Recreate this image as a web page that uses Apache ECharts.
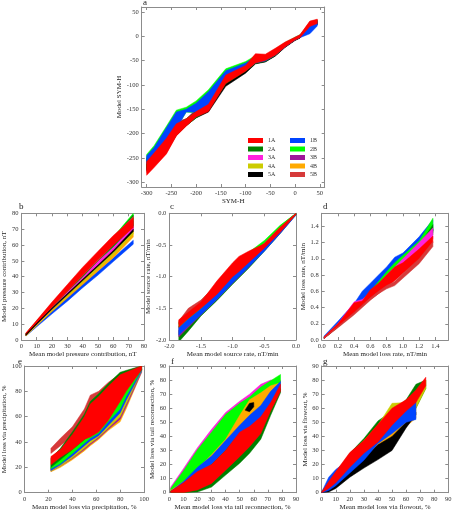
<!DOCTYPE html>
<html>
<head>
<meta charset="utf-8">
<script src="https://cdn.jsdelivr.net/npm/echarts@6/dist/echarts.min.js"></script>
<style>
  html, body { margin: 0; padding: 0; background: #fff; }
  #chart { width: 456px; height: 512px; }
</style>
</head>
<body>
<div id="chart"></div>
<script>
// ---- panel a : SYM-H ----
const aTicks = [-300, -250, -200, -150, -100, -50, 0, 50];
const aX = [-300, -285, -260, -240, -220, -200, -175, -140, -100, -80, -60, -40, -20, 0, 10, 30, 45];
const a2B_hi = [-243, -225, -185, -152, -146, -133, -110, -67, -52, -40, -40, -27, -13, -2, 3, 26, 33];
const a2B_lo = [-262, -250, -225, -190, -156, -158, -140, -92, -70, -54, -50, -38, -22, -8, -2, 12, 24];
const a3B_hi = [-255, -240, -215, -175, -170, -150, -130, -80, -60, -45, -44, -32, -17, -5, 1, 22, 30];
const a3B_lo = [-270, -258, -232, -198, -178, -165, -150, -95, -72, -55, -52, -40, -22, -8, -3, 14, 24];
const a3A_hi = [-256, -241, -213, -178, -170, -152, -132, -82, -61, -46, -45, -33, -18, -5, 1, 21, 29];
const a3A_lo = [-268, -256, -230, -195, -176, -163, -148, -93, -71, -54, -51, -39, -22, -8, -3, 15, 25];
const a4A_hi = [-258, -244, -218, -182, -170, -156, -136, -84, -62, -45, -44, -32, -17, -5, 1, 24, 31];
const a4A_lo = [-272, -260, -236, -200, -180, -166, -152, -98, -74, -56, -52, -40, -22, -8, -3, 18, 26];
const a4B_hi = [-257, -243, -217, -181, -171, -155, -135, -83, -61, -45, -44, -32, -17, -5, 1, 23, 30];
const a4B_lo = [-270, -258, -234, -199, -180, -165, -151, -97, -73, -55, -52, -40, -22, -8, -3, 17, 25];
const a5B_hi = [-258, -244, -216, -180, -170, -155, -136, -82, -60, -38, -39, -28, -14, -3, 2, 30, 34];
const a5B_lo = [-280, -266, -240, -204, -184, -166, -155, -98, -72, -55, -51, -40, -22, -8, -3, 20, 26];
const a5A_hi = [-262, -248, -222, -186, -172, -160, -140, -88, -66, -50, -48, -36, -19, -6, 0, 22, 29];
const a5A_lo = [-276, -262, -238, -202, -184, -168, -156, -103, -76, -57, -53, -41, -23, -9, -4, 17, 24];
const a2A_hi = [-250, -236, -210, -180, -170, -153, -135, -80, -60, -44, -43, -31, -16, -5, 1, 25, 32];
const a2A_lo = [-270, -258, -236, -204, -184, -168, -152, -98, -72, -56, -52, -40, -22, -8, -3, 18, 26];
const a1B_hi = [-246, -229, -188, -156, -150, -138, -114, -71, -55, -42, -42, -29, -15, -3, 2, 22, 30];
const a1B_lo = [-262, -248, -222, -190, -156, -156, -142, -94, -70, -55, -51, -39, -22, -8, -3, 5, 21];
const a1A_hi = [-258, -240, -210, -180, -170, -155, -140, -80, -60, -36, -37, -25, -12, -2, 3, 31, 35];
const a1A_lo = [-286, -270, -242, -205, -185, -166, -155, -97, -72, -55, -50, -39, -22, -8, -3, 20, 26];

// ---- panel b : pressure contribution ----
const bTicks = [0, 10, 20, 30, 40, 50, 60, 70, 80];
const bX = [3, 10, 20, 30, 40, 50, 60, 73];
const b1B_lo = [2.5, 8.3, 16.5, 24.5, 33, 41, 49.5, 60.5];
const b1B_hi = [4, 10.3, 18.8, 27, 35.5, 43.5, 52, 63];
const b4B_lo = [2.5, 9, 18, 26.5, 35, 43.5, 52, 65];
const b4B_hi = [4, 11, 20.5, 29.5, 38.5, 47, 56, 69];
const b4A_lo = [2.5, 9.5, 18.5, 27.5, 36.5, 45, 54, 67];
const b4A_hi = [4, 11, 21, 30.5, 40, 49, 58, 71];
const b3B_lo = [3, 10, 19.5, 29, 38.5, 47.5, 57, 70];
const b3B_hi = [4, 11.5, 22, 32, 42, 51.5, 61, 75];
const b3A_lo = [3, 10, 19.5, 29, 38, 47, 56, 69];
const b3A_hi = [4, 11.5, 22, 32, 41.5, 51, 61, 75];
const b2B_lo = [3, 10.5, 20.5, 30.5, 40, 50, 59, 73];
const b2B_hi = [4.2, 12, 23, 34, 44, 55, 65, 80];
const b2A_lo = [3, 10.5, 20.5, 30.5, 40, 50, 59, 72];
const b2A_hi = [4.2, 12, 23, 33.5, 43.5, 54.5, 64.5, 79];
const b5B_lo = [3, 10.5, 20.5, 30.5, 40.5, 50, 60, 73];
const b5B_hi = [4.3, 12, 23.5, 34, 44, 55, 65, 78];
const b1A_lo = [3, 10.5, 21, 31, 41, 51, 60, 71];
const b1A_hi = [4.5, 12.5, 24, 35, 46, 56, 66, 77];
const b5A_lo = [3, 10, 19.5, 28.5, 37.5, 46.5, 55.5, 68.5];
const b5A_hi = [3.6, 10.6, 20.2, 29.3, 38.3, 47.3, 56.5, 70];

// ---- panel c : source rate ----
const cTicks = [-2.0, -1.5, -1.0, -0.5, 0.0];
const cX = [-1.85, -1.7, -1.5, -1.25, -1.0, -0.9, -0.75, -0.5, -0.25, 0];
const c2A_lo = [-2.03, -1.86, -1.62, -1.38, -1.12, -1.02, -0.87, -0.6, -0.32, -0.02];
const c2A_hi = [-1.85, -1.7, -1.45, -1.2, -0.95, -0.85, -0.7, -0.45, -0.2, 0];
const c3B_lo = [-1.95, -1.8, -1.6, -1.36, -1.1, -1.0, -0.85, -0.58, -0.31, -0.02];
const c3B_hi = [-1.8, -1.66, -1.46, -1.22, -0.97, -0.88, -0.73, -0.48, -0.22, 0];
const c1B_lo = [-1.92, -1.78, -1.6, -1.36, -1.1, -1.0, -0.85, -0.6, -0.32, -0.03];
const c1B_hi = [-1.78, -1.65, -1.45, -1.22, -0.97, -0.88, -0.73, -0.48, -0.22, 0];
const c2B_lo = [-1.8, -1.66, -1.5, -1.25, -0.98, -0.88, -0.74, -0.52, -0.28, -0.02];
const c2B_hi = [-1.72, -1.58, -1.38, -1.12, -0.86, -0.74, -0.62, -0.43, -0.19, 0];
const c5B_lo = [-1.75, -1.6, -1.45, -1.2, -0.95, -0.85, -0.73, -0.5, -0.25, 0];
const c5B_hi = [-1.7, -1.5, -1.37, -1.12, -0.9, -0.8, -0.68, -0.47, -0.22, 0];
const c1A_lo = [-1.8, -1.66, -1.5, -1.28, -1.0, -0.92, -0.78, -0.55, -0.3, -0.02];
const c1A_hi = [-1.68, -1.56, -1.4, -1.07, -0.78, -0.68, -0.6, -0.48, -0.22, 0];

// ---- panel d : loss rate ----
const dTicks = [0.0, 0.2, 0.4, 0.6, 0.8, 1.0, 1.2, 1.4];
const dX = [0.03, 0.2, 0.4, 0.5, 0.6, 0.7, 0.8, 0.9, 1.0, 1.2, 1.37];
const d1B_lo = [0.02, 0.17, 0.35, 0.45, 0.56, 0.66, 0.76, 0.86, 0.95, 1.15, 1.35];
const d1B_hi = [0.05, 0.23, 0.45, 0.6, 0.7, 0.8, 0.9, 1.02, 1.07, 1.27, 1.48];
const d2B_lo = [0.02, 0.16, 0.33, 0.42, 0.52, 0.62, 0.72, 0.82, 0.92, 1.1, 1.32];
const d2B_hi = [0.04, 0.2, 0.38, 0.48, 0.6, 0.72, 0.84, 0.95, 1.04, 1.22, 1.5];
const d2A_lo = [0.02, 0.16, 0.32, 0.42, 0.52, 0.62, 0.72, 0.8, 0.9, 1.08, 1.3];
const d2A_hi = [0.04, 0.19, 0.37, 0.46, 0.57, 0.67, 0.78, 0.88, 0.98, 1.16, 1.42];
const d5A_lo = [0.02, 0.17, 0.34, 0.43, 0.53, 0.63, 0.74, 0.84, 0.93, 1.12, 1.34];
const d5A_hi = [0.03, 0.18, 0.35, 0.44, 0.54, 0.64, 0.75, 0.85, 0.94, 1.13, 1.36];
const d3A_lo = [0.02, 0.17, 0.36, 0.44, 0.5, 0.6, 0.7, 0.8, 0.9, 1.08, 1.25];
const d3A_hi = [0.04, 0.2, 0.47, 0.5, 0.58, 0.68, 0.8, 0.9, 1.0, 1.2, 1.38];
const d1A_lo = [0.02, 0.16, 0.33, 0.43, 0.5, 0.57, 0.65, 0.73, 0.82, 0.98, 1.2];
const d1A_hi = [0.04, 0.2, 0.46, 0.48, 0.62, 0.7, 0.8, 0.9, 0.95, 1.12, 1.28];
const d5B_lo = [0.02, 0.15, 0.31, 0.4, 0.49, 0.57, 0.63, 0.67, 0.76, 0.94, 1.15];
const d5B_hi = [0.03, 0.17, 0.34, 0.43, 0.52, 0.6, 0.67, 0.72, 0.82, 1.0, 1.21];

// ---- panel e : precipitation ----
const eTicks = [0, 20, 40, 60, 80, 100];
const eX = [22, 30, 40, 50, 55, 62, 70, 80, 85, 98];
const e4B_lo = [16.5, 20, 26, 33, 37, 42, 49, 56, 66, 95];
const e4B_hi = [19, 23, 30, 37, 41, 46, 54, 62, 72, 97];
const e3B_lo = [17, 21, 27, 34, 38, 43, 50, 58, 68, 95];
const e3B_hi = [19.5, 24, 31, 38, 42, 47, 56, 64, 74, 97];
const e4A_lo = [17, 21, 27.5, 35, 39, 44, 51, 60, 70, 96];
const e4A_hi = [20, 24, 32, 39, 43, 48, 57, 66, 76, 98];
const e1B_lo = [17.5, 22, 29, 37, 41, 45, 53, 63, 73, 96];
const e1B_hi = [20.5, 26, 34, 41, 46, 50, 58, 69, 79, 98];
const e2B_lo = [19, 23, 31, 39, 43, 47, 56, 66, 76, 97];
const e2B_hi = [22, 28, 36, 44, 48, 56, 67, 75, 83, 99];
const e5B_lo = [31, 37, 45, 56, 62, 68, 76, 86, 90, 98];
const e5B_hi = [35, 43, 52, 66, 77, 80, 87, 94, 96, 100];
const e2A_lo = [20, 26, 34, 42, 46, 52, 62, 75, 82, 97];
const e2A_hi = [27, 35, 48, 62, 72, 78, 86, 95, 96.5, 100];
const e1A_lo = [22, 28, 34, 42, 44, 48, 57, 72, 80, 97];
const e1A_hi = [28.5, 34, 46, 60, 70, 76, 84, 93, 95, 100];

// ---- panel f : tail reconnection ----
const fgTicks = [0, 10, 20, 30, 40, 50, 60, 70, 80, 90];
const fX = [1, 10, 20, 30, 40, 50, 57, 65, 72, 79];
const f3A_lo = [0, 2, 8, 18, 28, 40, 48, 56, 66, 73];
const f3A_hi = [4, 17, 32, 45, 57, 65, 70, 77, 80, 80];
const f2B_lo = [0, 2, 8, 18, 28, 40, 48, 56, 66, 73];
const f2B_hi = [3, 15.5, 30.5, 43, 55.5, 63.5, 68, 75, 79.5, 84];
const f4A_lo = [0.5, 4, 11, 21, 32, 43, 46, 52, 64, 73];
const f4A_hi = [1.5, 7, 16, 26, 37, 52, 62, 70, 75, 78];
const f4B_lo = [0.5, 5, 12, 22, 33, 46, 52, 58, 66, 74];
const f4B_hi = [1.5, 8, 17, 27, 38, 55, 66, 71, 76, 78];
const f5A_x = [54, 57, 60];
const f5A_lo = [58.5, 57.5, 61];
const f5A_hi = [59, 63.5, 64];
const f1B_lo = [0, 2, 6, 14, 24, 35, 42, 50, 62, 72];
const f1B_hi = [1, 8, 18, 26, 37, 48, 55, 62, 72, 79];
const f2A_lo = [0, 0, 0.5, 4, 12.5, 21, 28, 38, 55, 71];
const f2A_hi = [1, 5, 12, 20, 30, 42, 45, 50, 62, 74];
const f1A_lo = [0, 0, 2, 6.6, 16, 25.6, 32.7, 42, 58, 72];
const f1A_hi = [1, 7, 15, 20, 30, 43, 47, 54, 64, 77];

// ---- panel g : flowout ----
const gX = [0, 5, 10, 20, 30, 40, 50, 60, 67, 74];
const gShortX = [0, 5, 10, 20, 30, 40, 50, 60, 67];
const g2A_lo = [0, 3, 6, 14, 22, 30, 40, 52, 60, 74];
const g2A_hi = [0.5, 8, 14, 28, 38.5, 51, 58, 66, 77, 80];
const g4A_lo = [0, 3, 6, 14, 22, 30, 42, 52, 60, 74];
const g4A_hi = [0.5, 7, 13, 27, 37, 48, 63.5, 64, 66, 80];
const g4B_lo = [0, 1.5, 4.5, 12.5, 19, 26, 34, 47, 53];
const g4B_hi = [0.5, 8, 14, 27, 36, 47, 58, 63, 65];
const g5A_lo = [0, 0.5, 3, 11, 17.5, 23.5, 30, 46, 55.5];
const g5A_hi = [0.5, 5, 10, 17, 25, 34, 40, 50, 57];
const g1B_lo = [0, 1.5, 5, 14, 23, 35, 42, 50, 52];
const g1B_hi = [0.5, 11, 16.5, 24, 32, 42, 52, 62, 65];
const g1A_lo = [0, 3, 7, 18, 28, 36, 48, 58, 64, 76];
const g1A_hi = [0.5, 8, 15, 28.6, 37, 48.6, 60, 66, 73, 82];

const COLORS = {
  '1A': '#ff0000', '2A': '#008000', '3A': '#ff22dd', '4A': '#cccc00', '5A': '#000000',
  '1B': '#0044ff', '2B': '#00ff00', '3B': '#a0179a', '4B': '#ffaa00', '5B': '#d63a3a'
};
const FONT = '"Liberation Serif", "DejaVu Serif", serif';

// panels: box = [left, top, width, height]
const panels = [
  { key: 'a', box: [141.7, 7, 183, 180], x: [-310, 60], y: [-310, 60], xt: aTicks, yt: aTicks, dec: 0,
    xName: 'SYM-H', yName: 'Model SYM-H', xGap: 8, yGap: 16, letter: [143, -2],
    bands: [['2B', aX, a2B_lo, a2B_hi], ['3B', aX, a3B_lo, a3B_hi], ['3A', aX, a3A_lo, a3A_hi],
            ['4A', aX, a4A_lo, a4A_hi], ['4B', aX, a4B_lo, a4B_hi], ['5B', aX, a5B_lo, a5B_hi],
            ['5A', aX, a5A_lo, a5A_hi], ['2A', aX, a2A_lo, a2A_hi], ['1B', aX, a1B_lo, a1B_hi],
            ['1A', aX, a1A_lo, a1A_hi]] },
  { key: 'b', box: [17.3, 213.3, 126.7, 126.7], x: [0, 80], y: [0, 80], xt: bTicks, yt: bTicks, dec: 0,
    xName: 'Mean model pressure contribution, nT', yName: 'Model pressure contribution, nT', xGap: 9, yGap: 8, letter: [19, 202],
    bands: [['1B', bX, b1B_lo, b1B_hi], ['4B', bX, b4B_lo, b4B_hi], ['4A', bX, b4A_lo, b4A_hi],
            ['3B', bX, b3B_lo, b3B_hi], ['3A', bX, b3A_lo, b3A_hi], ['2B', bX, b2B_lo, b2B_hi],
            ['2A', bX, b2A_lo, b2A_hi], ['5B', bX, b5B_lo, b5B_hi], ['1A', bX, b1A_lo, b1A_hi],
            ['5A', bX, b5A_lo, b5A_hi]] },
  { key: 'c', box: [169.3, 213.3, 126.7, 126.7], x: [-2, 0], y: [-2, 0], xt: cTicks, yt: cTicks, dec: 1,
    xName: 'Mean model source rate, nT/min', yName: 'Model source rate, nT/min', xGap: 9, yGap: 11, letter: [170, 202],
    bands: [['2A', cX, c2A_lo, c2A_hi], ['3B', cX, c3B_lo, c3B_hi], ['1B', cX, c1B_lo, c1B_hi],
            ['2B', cX, c2B_lo, c2B_hi], ['5B', cX, c5B_lo, c5B_hi], ['1A', cX, c1A_lo, c1A_hi]] },
  { key: 'd', box: [321.7, 213.3, 126.6, 126.7], x: [0, 1.56], y: [0, 1.56], xt: dTicks, yt: dTicks, dec: 1,
    xName: 'Mean model loss rate, nT/min', yName: 'Model loss rate, nT/min', xGap: 9, yGap: 11, letter: [323, 202],
    bands: [['1B', dX, d1B_lo, d1B_hi], ['2B', dX, d2B_lo, d2B_hi], ['2A', dX, d2A_lo, d2A_hi],
            ['5A', dX, d5A_lo, d5A_hi], ['3A', dX, d3A_lo, d3A_hi], ['1A', dX, d1A_lo, d1A_hi],
            ['5B', dX, d5B_lo, d5B_hi]] },
  { key: 'e', box: [17.3, 366, 126.7, 126.7], x: [0, 100], y: [0, 100], xt: eTicks, yt: eTicks, dec: 0,
    xName: 'Mean model loss via precipitation, %', yName: 'Model loss via precipitation, %', xGap: 8.5, yGap: 8, letter: [18, 357],
    bands: [['4B', eX, e4B_lo, e4B_hi], ['3B', eX, e3B_lo, e3B_hi], ['4A', eX, e4A_lo, e4A_hi],
            ['1B', eX, e1B_lo, e1B_hi], ['2B', eX, e2B_lo, e2B_hi], ['5B', eX, e5B_lo, e5B_hi],
            ['2A', eX, e2A_lo, e2A_hi], ['1A', eX, e1A_lo, e1A_hi]] },
  { key: 'f', box: [169.3, 366, 126.7, 126.7], x: [0, 90], y: [0, 90], xt: fgTicks, yt: fgTicks, dec: 0,
    xName: 'Mean model loss via tail reconnection, %', yName: 'Model loss via tail reconnection, %', xGap: 8.5, yGap: 10, letter: [171, 357],
    bands: [['3A', fX, f3A_lo, f3A_hi], ['2B', fX, f2B_lo, f2B_hi], ['4A', fX, f4A_lo, f4A_hi],
            ['4B', fX, f4B_lo, f4B_hi], ['5A', f5A_x, f5A_lo, f5A_hi], ['1B', fX, f1B_lo, f1B_hi],
            ['2A', fX, f2A_lo, f2A_hi], ['1A', fX, f1A_lo, f1A_hi]] },
  { key: 'g', box: [321.7, 366, 126.6, 126.7], x: [0, 90], y: [0, 90], xt: fgTicks, yt: fgTicks, dec: 0,
    xName: 'Mean model loss via flowout, %', yName: 'Model loss via flowout, %', xGap: 8.5, yGap: 10, letter: [323, 357],
    bands: [['2A', gX, g2A_lo, g2A_hi], ['4A', gX, g4A_lo, g4A_hi], ['4B', gShortX, g4B_lo, g4B_hi],
            ['5A', gShortX, g5A_lo, g5A_hi], ['1B', gShortX, g1B_lo, g1B_hi], ['1A', gX, g1A_lo, g1A_hi]] }
];

function mkAxis(i, p, isX, main) {
  const ticks = isX ? p.xt : p.yt;
  const r = isX ? p.x : p.y;
  return {
    type: 'value', gridIndex: i, min: r[0], max: r[1],
    position: isX ? (main ? 'bottom' : 'top') : (main ? 'left' : 'right'),
    name: main ? (isX ? p.xName : p.yName) : '',
    nameLocation: 'middle',
    nameGap: isX ? p.xGap : p.yGap,
    nameTextStyle: { fontFamily: FONT, fontSize: 7, color: '#222' },
    axisLine: { show: true, onZero: false, lineStyle: { color: '#8c8c8c', width: 1 } },
    axisTick: { show: true, inside: true, length: 3, customValues: ticks, lineStyle: { color: '#8c8c8c' } },
    axisLabel: {
      show: main, customValues: ticks, fontFamily: FONT, fontSize: 6.5, color: '#333', margin: 3,
      formatter: v => p.dec ? Number(v).toFixed(p.dec) : String(Math.round(v))
    },
    splitLine: { show: false }
  };
}

const grid = [], xAxis = [], yAxis = [], series = [], title = [];
panels.forEach((p, i) => {
  grid.push({ left: p.box[0], top: p.box[1], width: p.box[2], height: p.box[3], containLabel: false });
  xAxis.push(mkAxis(i, p, true, true), mkAxis(i, p, true, false));
  yAxis.push(mkAxis(i, p, false, true), mkAxis(i, p, false, false));
  title.push({ text: p.key, left: p.letter[0], top: p.letter[1], padding: 0,
               textStyle: { fontFamily: FONT, fontSize: 9, fontWeight: 'normal', color: '#222' } });
  p.bands.forEach(([name, xs, lo, hi]) => {
    series.push({
      type: 'custom', name: name, xAxisIndex: 2 * i, yAxisIndex: 2 * i,
      silent: true, clip: true,
      itemStyle: { color: COLORS[name] },
      data: [[xs[0], lo[0]]],
      renderItem: (params, api) => {
        const pts = [];
        xs.forEach((x, k) => pts.push(api.coord([x, hi[k]])));
        for (let k = xs.length - 1; k >= 0; k--) pts.push(api.coord([xs[k], lo[k]]));
        return { type: 'polygon', shape: { points: pts },
                 style: { fill: COLORS[name], stroke: COLORS[name], lineWidth: 0.5 } };
      }
    });
  });
});

const legendBase = {
  orient: 'vertical', icon: 'rect', itemWidth: 15, itemHeight: 5, itemGap: 2.5,
  selectedMode: false, padding: 0,
  textStyle: { fontFamily: FONT, fontSize: 6, color: '#333' }
};

const myChart = echarts.init(document.getElementById('chart'), null, { renderer: 'canvas' });
myChart.setOption({
  animation: false,
  backgroundColor: '#fff',
  title: title,
  legend: [
    Object.assign({ left: 248, top: 137.5, data: ['1A', '2A', '3A', '4A', '5A'] }, legendBase),
    Object.assign({ left: 290, top: 137.5, data: ['1B', '2B', '3B', '4B', '5B'] }, legendBase)
  ],
  grid: grid,
  xAxis: xAxis,
  yAxis: yAxis,
  series: series
});
window.addEventListener('resize', () => myChart.resize());
</script>
</body>
</html>
